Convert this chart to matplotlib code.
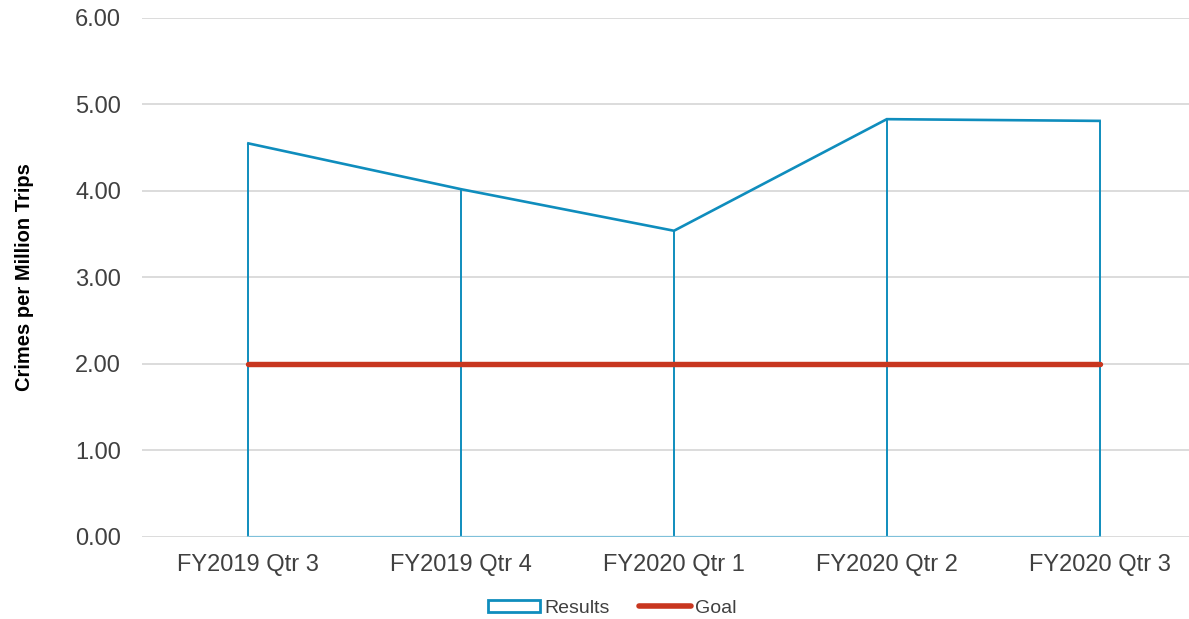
import matplotlib.pyplot as plt
from matplotlib.patches import Patch
from matplotlib.lines import Line2D

plt.rcParams['font.family'] = ['Liberation Sans', 'DejaVu Sans']

quarters = ['FY2019 Qtr 3', 'FY2019 Qtr 4', 'FY2020 Qtr 1', 'FY2020 Qtr 2', 'FY2020 Qtr 3']
results = [4.55, 4.02, 3.54, 4.83, 4.81]
goal = [2.00, 2.00, 2.00, 2.00, 2.00]
y_ticks = [0, 1, 2, 3, 4, 5, 6]

blue = '#0f8dbd'
red = '#c8361f'
text_col = '#404040'

fig = plt.figure(figsize=(11.89, 6.19), dpi=100)
ax = fig.add_axes([0.1194, 0.1325, 0.8806, 0.8385])

x = list(range(len(quarters)))

# area outline (no fill) with drop lines, like the spreadsheet chart
ax.plot(x, results, color=blue, lw=1.9, zorder=3, solid_joinstyle='miter')
ax.vlines(x, 0, results, color=blue, lw=1.4, zorder=3)
ax.plot([x[0], x[-1]], [0, 0], color='#7fc0da', lw=1.6, zorder=3)

ax.plot(x, goal, color=red, lw=3.9, zorder=4, solid_capstyle='round')

ax.set_xlim(-0.5, 4.42)
ax.set_ylim(0, 6)
ax.set_yticks(y_ticks)
ax.set_yticklabels([f'{v:.2f}' for v in y_ticks])
ax.set_xticks(x)
ax.set_xticklabels(quarters)
ax.grid(axis='y', color='#d9d9d9', lw=1.3)
ax.set_axisbelow(True)
for s in ax.spines.values():
    s.set_visible(False)
ax.tick_params(axis='both', length=0, labelsize=17, colors=text_col)
ax.tick_params(axis='y', pad=15)
ax.tick_params(axis='x', pad=12)
ax.set_ylabel('Crimes per Million Trips', fontsize=14.5, fontweight='bold', color='black')
ax.yaxis.set_label_coords(-0.103, 0.5)

handles = [Patch(facecolor='white', edgecolor=blue, lw=2),
           Line2D([], [], color=red, lw=4, solid_capstyle='round')]
fig.legend(handles, ['Results', 'Goal'], loc='center', bbox_to_anchor=(0.515, 0.017),
           ncol=2, frameon=False, fontsize=14, handlelength=2.7, handleheight=0.6,
           handletextpad=0.2, columnspacing=1.5, labelcolor=text_col)

fig.savefig('out.png', dpi=100)
